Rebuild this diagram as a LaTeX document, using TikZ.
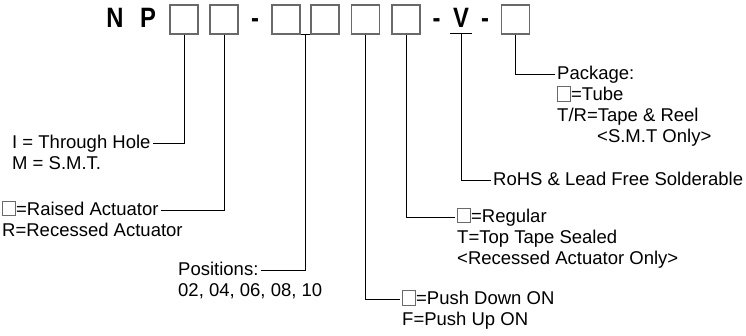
\documentclass[tikz,border=0pt]{standalone}
\usepackage{fontspec}
\setmainfont{Liberation Sans}
\newfontfamily\pnfont{Liberation Sans}[FakeStretch=0.85]
\usepackage{xcolor}
\usetikzlibrary{positioning}
\definecolor{boxgray}{RGB}{105,105,105}
\setlength{\fboxsep}{0pt}
\setlength{\fboxrule}{0.7pt}
\newcommand{\sqbox}{\fcolorbox{boxgray}{white}{\rule{0pt}{13.5pt}\hspace{12pt}}\kern0.5pt}

\begin{document}
\begin{tikzpicture}[x=1pt,y=-1pt,
    digit/.style={draw=boxgray, line width=1.2pt, minimum width=28pt, minimum height=29pt, inner sep=0pt},
    pnletter/.style={font=\pnfont\bfseries\fontsize{28}{30}\selectfont, inner sep=0pt, anchor=base},
    lbl/.style={font=\fontsize{18.5}{20.7}\selectfont, inner xsep=2pt, inner ysep=1.85pt, text height=14pt, text depth=3pt},
    lead/.style={draw=black, line width=0.9pt}]
    \useasboundingbox (0,0) rectangle (746,336);

    % 型番
    \node[pnletter] (n) at (115,28) {N};
    \node[pnletter] (p) at (148,28) {P};
    \foreach \n/\x in {1/184, 2/224, 3/286, 4/325, 5/365.5, 6/406, 7/515.5} {
        \node[digit] (b\n) at (\x,19.5) {};
    }
    \node[pnletter] (d1) at (255,28) {-};
    \node[pnletter] (d2) at (436.5,28) {-};
    \node[pnletter] (v) at (461,28) {V};
    \node[pnletter] (d3) at (485,28) {-};
    \coordinate (vl) at (450,33);
    \coordinate (vr) at (472,33);

    % 説明(左)
    \node[lbl, anchor=west] (th) at (10,143) {I = Through Hole};
    \node[lbl, anchor=north west] (smt) at (th.south west) {M = S.M.T.};
    \node[lbl, anchor=west] (ra) at (0,210) {\sqbox=Raised Actuator};
    \node[lbl, anchor=north west] (rec) at (ra.south west) {R=Recessed Actuator};
    \node[lbl, anchor=west] (pos) at (176,270) {Positions:};
    \node[lbl, anchor=north west] (num) at (pos.south west) {02, 04, 06, 08, 10};

    % 説明(右)
    \node[lbl, anchor=west] (pkg) at (555,74) {Package:};
    \node[lbl, anchor=north west] (tube) at (pkg.south west) {\sqbox=Tube};
    \node[lbl, anchor=north west] (tr) at (tube.south west) {T/R=Tape \& Reel};
    \node[lbl, anchor=north west, xshift=40pt] (smto) at (tr.south west) {<S.M.T Only>};
    \node[lbl, anchor=west] (rohs) at (491,180) {RoHS \& Lead Free Solderable};
    \node[lbl, anchor=west] (reg) at (455,217) {\sqbox=Regular};
    \node[lbl, anchor=north west] (top) at (reg.south west) {T=Top Tape Sealed};
    \node[lbl, anchor=north west] (reco) at (top.south west) {<Recessed Actuator Only>};
    \node[lbl, anchor=west] (pd) at (400,299) {\sqbox=Push Down ON};
    \node[lbl, anchor=north west] (pu) at (pd.south west) {F=Push Up ON};

    % 引出線
    \draw[lead] (b1.south) |- (th.east);
    \draw[lead] (b2.south) |- (ra.east);
    \draw[lead] (b3.south east) -- coordinate (pj) (b4.south west);
    \draw[lead] (pj) |- (pos.east);
    \draw[lead] (b5.south) |- (pd.west);
    \draw[lead] (b6.south) |- (reg.west);
    \draw[lead] (vl) -- coordinate (vm) (vr);
    \draw[lead] (vm) |- (rohs.west);
    \draw[lead] (b7.south) |- (pkg.west);
\end{tikzpicture}
\end{document}
